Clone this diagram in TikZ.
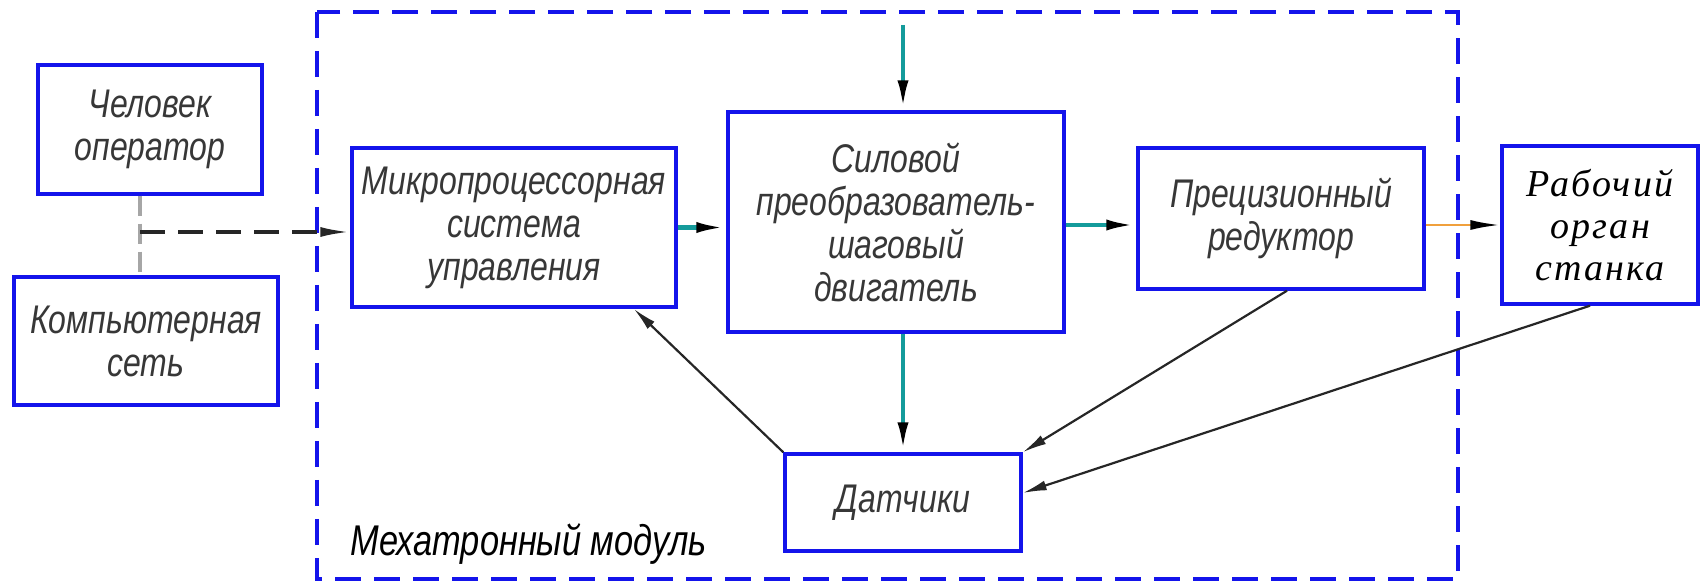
\documentclass[tikz,border=0pt]{standalone}
\usepackage{fontspec}
\setmainfont{Liberation Sans}
\newfontfamily\gostfont{Liberation Sans}[FakeStretch=0.8]
\newfontfamily\rabfont{Liberation Serif}[LetterSpace=6]
\usetikzlibrary{arrows.meta,calc}
\definecolor{boxblue}{RGB}{20,20,235}
\definecolor{tealc}{RGB}{20,155,155}
\definecolor{orangec}{RGB}{240,160,60}
\definecolor{txtgray}{RGB}{55,55,55}
\tikzset{
  blk/.style={draw=boxblue, line width=1.7pt, fill=white, align=center, inner sep=0pt,
    text=txtgray, font=\gostfont\itshape\fontsize{20}{21.5}\selectfont},
  tealarrow/.style={draw=tealc, line width=2.2pt, -{Latex[length=15pt,width=5.5pt,color=black]}},
  fbarrow/.style={draw=black!85, line width=1.1pt, -{Latex[length=12pt,width=5pt]}},
  modframe/.style={draw=boxblue, line width=2.2pt, dash pattern=on 13pt off 6.5pt},
}
\begin{document}
\begin{tikzpicture}[x=0.5pt,y=-0.5pt]
\useasboundingbox (0,0) rectangle (1703,582);
\draw[modframe] (317,12) rectangle (1458,579);

\node[blk, minimum width=112pt, minimum height=64.5pt] (chel) at (150,129.5) {Человек\\оператор};
\node[blk, minimum width=132pt, minimum height=64pt] (komp) at (146,341) {Компьютерная\\сеть};
\node[blk, minimum width=162pt, minimum height=79.5pt] (micro) at (514,227.5) {Микропроцессорная\\система\\управления};
\node[blk, minimum width=168pt, minimum height=110pt] (silovoi) at (896,222) {Силовой\\преобразователь-\\шаговый\\двигатель};
\node[blk, minimum width=143pt, minimum height=70.5pt] (prec) at (1281,218.5) {Прецизионный\\редуктор};
\node[blk, minimum width=98pt, minimum height=79pt, text=black,
  font=\rabfont\itshape\fontsize{19}{21}\selectfont] (rab) at (1600,225) {Рабочий\\орган\\станка};
\node[blk, minimum width=118pt, minimum height=48.5pt] (dat) at (903,502.5) {Датчики};

\node[anchor=base west, inner sep=0pt, text=black,
  font=\gostfont\itshape\fontsize{21.5}{23}\selectfont] (mm) at (350,555) {Мехатронный модуль};

% operator / network link
\coordinate (j) at (140,232);
\draw[gray!70, line width=1.6pt, dash pattern=on 10pt off 4pt] (chel.south -| j) -- (komp.north -| j);
\draw[black!85, line width=1.6pt, dash pattern=on 12.5pt off 6.5pt,
  -{Latex[length=15pt,width=5pt]}] (j) -- (j -| micro.west);

% power chain
\coordinate (topin) at (903,25);
\coordinate (sout) at ($(silovoi.east)+(0,3)$);
\draw[tealarrow] (topin) -- (topin |- silovoi.north);
\draw[tealarrow] (micro.east) -- (micro.east -| silovoi.west);
\draw[tealarrow] (sout) -- (sout -| prec.west);
\draw[tealarrow] (dat.north |- silovoi.south) -- (dat.north);
\draw[draw=orangec, line width=1.3pt, -{Latex[length=15pt,width=5pt,color=black]}]
  (rab.west -| prec.east) -- (rab.west);

% feedback
\draw[fbarrow] (dat.north west) -- ($(micro.south east)+(-44,0)$);
\draw[fbarrow] ($(prec.south)+(6,0)$) -- (dat.north east);
\draw[fbarrow] ($(rab.south)+(-10,0)$) -- ($(dat.east)+(0,-9.5)$);
\end{tikzpicture}
\end{document}
